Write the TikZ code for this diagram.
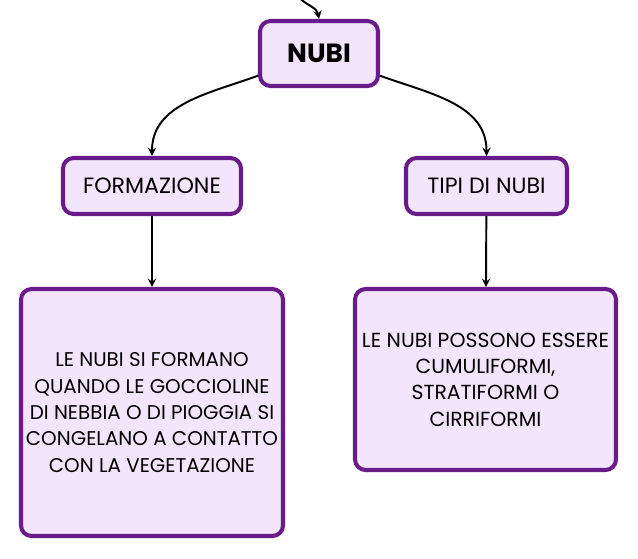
\documentclass[tikz,border=0pt]{standalone}
\usepackage{fontspec}
\setmainfont{Poppins}
\usepackage{tikz}
\definecolor{boxline}{RGB}{106,27,138}
\definecolor{boxfill}{RGB}{243,229,252}
\tikzset{
  box/.style={draw=boxline, fill=boxfill, line width=2.3pt, rounded corners=6pt, align=center, inner sep=2pt},
  link/.style={->, line width=1.1pt, >=stealth}
}
\begin{document}
\begin{tikzpicture}
\useasboundingbox (0,0) rectangle (12.76,-11.16);
\node [box, minimum width=2.36cm, minimum height=1.30cm, font=\bfseries\fontsize{15}{17}\selectfont] (nubi) at (6.38,-1.07) {NUBI};
\node [box, minimum width=3.56cm, minimum height=1.12cm, font=\fontsize{12.6}{14}\selectfont] (form) at (3.04,-3.72) {FORMAZIONE};
\node [box, minimum width=3.22cm, minimum height=1.12cm, font=\fontsize{12.6}{14}\selectfont] (tipi) at (9.73,-3.72) {TIPI DI NUBI};
\node [box, minimum width=5.24cm, minimum height=4.94cm, font=\fontsize{11.3}{15}\selectfont] (formtxt) at (3.04,-8.25) {LE NUBI SI FORMANO\\QUANDO LE GOCCIOLINE\\DI NEBBIA O DI PIOGGIA SI\\CONGELANO A CONTATTO\\CON LA VEGETAZIONE};
\node [box, minimum width=5.22cm, minimum height=3.62cm, font=\fontsize{11.6}{15}\selectfont] (tipitxt) at (9.71,-7.59) {LE NUBI POSSONO ESSERE\\CUMULIFORMI,\\STRATIFORMI O\\CIRRIFORMI};
\coordinate (top) at (5.98,0.05);
\draw [link] (top) to [out=-45, in=100] (nubi.north);
\draw [link] (nubi) to [out=200, in=90] (form);
\draw [link] (nubi) to [out=-20, in=90] (tipi);
\draw [link] (form) -- (formtxt);
\draw [link] (tipi) -- (tipitxt);
\end{tikzpicture}
\end{document}
